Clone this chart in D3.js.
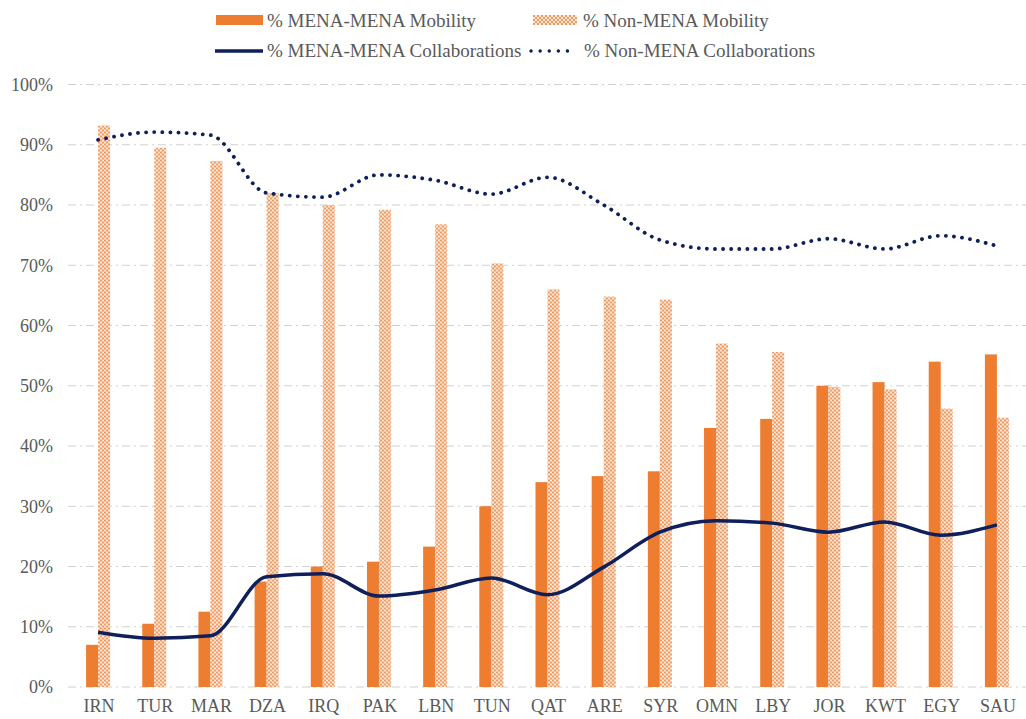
<!DOCTYPE html>
<html>
<head>
<meta charset="utf-8">
<script src="https://cdn.jsdelivr.net/npm/d3@7"></script>
</head>
<body style="margin:0; background:#fff">
<div id="chart"></div>
<script>
// data
const countries = ["IRN","TUR","MAR","DZA","IRQ","PAK","LBN","TUN","QAT","ARE","SYR","OMN","LBY","JOR","KWT","EGY","SAU"];
const menaMobility = [7, 10.5, 12.5, 17.5, 20, 20.8, 23.3, 30, 34, 35, 35.8, 43, 44.5, 50, 50.6, 54, 55.2];
const nonMenaMobility = [93.2, 89.5, 87.3, 82, 80, 79.2, 76.8, 70.3, 66, 64.8, 64.3, 57, 55.6, 49.8, 49.4, 46.2, 44.7];
const menaCollab = [9.1, 8.1, 8.5, 18.3, 18.8, 15.1, 16.1, 18.1, 15.3, 19.9, 25.7, 27.6, 27.2, 25.7, 27.4, 25.2, 26.9];
const nonMenaCollab = [90.8, 92.1, 91.6, 82, 81.3, 85, 84.1, 81.8, 84.6, 80, 74.2, 72.7, 72.7, 74.4, 72.7, 74.9, 73.2];
const yTicks = [0, 10, 20, 30, 40, 50, 60, 70, 80, 90, 100];

//setup
const W = 1026, H = 719;
const margin = {top: 84.5, right: 0, bottom: 32, left: 71};
const width = W - margin.left - margin.right,
      height = H - margin.top - margin.bottom;

const orange = "#ED7D31", navy = "#0E1F5B", grey = "#595959";
const serif = "'Liberation Serif', 'Times New Roman', serif";

const svg = d3.select("#chart").append("svg")
    .attr("width", W)
    .attr("height", H)
    .style("font-family", serif);

// check pattern for non-MENA bars
const defs = svg.append("defs");
const pat = defs.append("pattern")
    .attr("id", "check")
    .attr("patternUnits", "userSpaceOnUse")
    .attr("width", 4).attr("height", 4);
pat.append("rect").attr("width", 4).attr("height", 4).attr("fill", "#EF9C63");
[[2, 2], [0, 0], [4, 0], [0, 4], [4, 4]].forEach(p => {
    pat.append("circle").attr("cx", p[0]).attr("cy", p[1]).attr("r", 1.0).attr("fill", "#fff");
});

const g = svg.append("g")
    .attr("transform", "translate(" + margin.left + "," + margin.top + ")");

const x = d3.scaleBand().domain(countries).range([0, width]).padding(0);
const y = d3.scaleLinear().domain([0, 100]).range([height, 0]);
const barW = 12;

// gridlines
g.append("g").selectAll("line")
    .data(yTicks)
    .join("line")
    .attr("x1", -3).attr("x2", width)
    .attr("y1", d => y(d)).attr("y2", d => y(d))
    .attr("stroke", "#D0D0D0")
    .attr("stroke-width", 1)
    .attr("stroke-dasharray", "8 4 2 4");

// y axis
const yAxis = d3.axisLeft(y).tickValues(yTicks).tickFormat(d => d + "%").tickSize(0).tickPadding(18);
g.append("g").call(yAxis)
    .attr("font-family", null)
    .call(s => s.select(".domain").remove())
    .selectAll("text")
    .attr("fill", grey)
    .style("font-family", serif)
    .style("font-size", "18px");

// x axis
const xAxis = d3.axisBottom(x).tickSize(0).tickPadding(12);
g.append("g").attr("transform", "translate(0," + height + ")").call(xAxis)
    .attr("font-family", null)
    .call(s => s.select(".domain").remove())
    .selectAll("text")
    .attr("fill", grey)
    .style("font-family", serif)
    .style("font-size", "18px");

const cx = d => x(d) + x.bandwidth() / 2 - 1;

// bars
g.append("g").selectAll("rect")
    .data(countries)
    .join("rect")
    .attr("x", d => cx(d) - barW)
    .attr("width", barW)
    .attr("y", (d, i) => y(menaMobility[i]))
    .attr("height", (d, i) => height - y(menaMobility[i]))
    .attr("fill", orange);

g.append("g").selectAll("rect")
    .data(countries)
    .join("rect")
    .attr("x", d => cx(d))
    .attr("width", barW)
    .attr("y", (d, i) => y(nonMenaMobility[i]))
    .attr("height", (d, i) => height - y(nonMenaMobility[i]))
    .attr("fill", "url(#check)");

// lines
const line = d3.line()
    .x(d => cx(d.c))
    .y(d => y(d.v))
    .curve(d3.curveMonotoneX);

g.append("path")
    .datum(countries.map((c, i) => ({c: c, v: menaCollab[i]})))
    .attr("d", line)
    .attr("fill", "none")
    .attr("stroke", navy)
    .attr("stroke-width", 3.5)
    .attr("stroke-linejoin", "round");

g.append("path")
    .datum(countries.map((c, i) => ({c: c, v: nonMenaCollab[i]})))
    .attr("d", line)
    .attr("fill", "none")
    .attr("stroke", navy)
    .attr("stroke-width", 3.8)
    .attr("stroke-linecap", "round")
    .attr("stroke-dasharray", "0.1 8");

// legend
const lg = svg.append("g");
function legendText(xp, yp, txt) {
    lg.append("text").attr("x", xp).attr("y", yp)
        .attr("fill", grey)
        .style("font-family", serif)
        .style("font-size", "19px")
        .text(txt);
}
lg.append("rect").attr("x", 216).attr("y", 15).attr("width", 47).attr("height", 10).attr("fill", orange);
legendText(267, 27, "% MENA-MENA Mobility");
lg.append("rect").attr("x", 533).attr("y", 15).attr("width", 44).attr("height", 10).attr("fill", "url(#check)");
legendText(583, 27, "% Non-MENA Mobility");
lg.append("line").attr("x1", 215).attr("x2", 263).attr("y1", 51).attr("y2", 51)
    .attr("stroke", navy).attr("stroke-width", 3.5);
legendText(267, 57, "% MENA-MENA Collaborations");
lg.append("line").attr("x1", 531).attr("x2", 576).attr("y1", 51).attr("y2", 51)
    .attr("stroke", navy).attr("stroke-width", 3.4)
    .attr("stroke-linecap", "round").attr("stroke-dasharray", "0.1 9");
legendText(584, 57, "% Non-MENA Collaborations");
</script>
</body>
</html>
